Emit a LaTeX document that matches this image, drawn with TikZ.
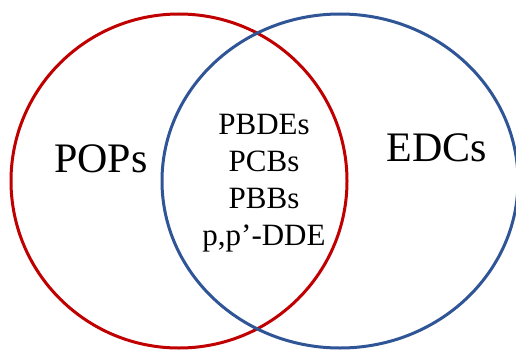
\documentclass[tikz,border=0pt]{standalone}
\usepackage{fontspec}
\setmainfont{Liberation Serif}
\usepackage{tikz}
\definecolor{popred}{RGB}{192,0,0}
\definecolor{edcblue}{RGB}{47,85,151}

\begin{document}
\begin{tikzpicture}[x=1pt,y=-1pt,
  setline/.style={line width=3pt},
  bigword/.style={font=\fontsize{42}{48}\selectfont},
  smallword/.style={font=\fontsize{31}{37}\selectfont,align=center}]
\useasboundingbox (0,0) rectangle (516,350);
\clip (0,0) rectangle (516,350);
\draw[setline,popred] (179,181) ellipse [x radius=168, y radius=167];
\draw[setline,edcblue] (340,181) ellipse [x radius=178, y radius=167];
\node[bigword] (pops) at (101,159) {POPs};
\node[bigword] (edcs) at (437,148) {EDCs};
\node[smallword] (common) at (264,183) {PBDEs\\PCBs\\PBBs\\p,p’-DDE};
\end{tikzpicture}
\end{document}
